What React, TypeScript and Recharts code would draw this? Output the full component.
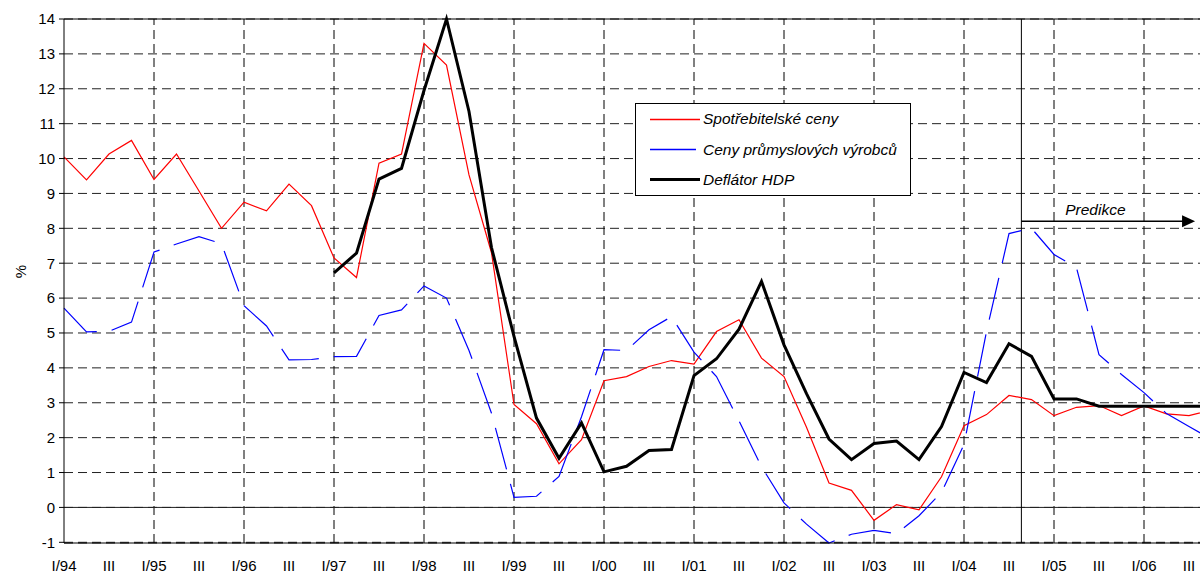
import React from 'react';
import { LineChart, Line, XAxis, YAxis, CartesianGrid, ReferenceLine } from 'recharts';

// čtvrtletí I/94 .. IV/06
const years = ['94', '95', '96', '97', '98', '99', '00', '01', '02', '03', '04', '05', '06'];
const quarterNames = ['I', 'II', 'III', 'IV'];

// meziroční změny v %
const spotrebitelskeCeny = [
  10.05, 9.39, 10.13, 10.52, 9.4, 10.13, 9.07, 8.0, 8.75, 8.5, 9.27, 8.65,
  7.15, 6.59, 9.87, 10.13, 13.3, 12.68, 9.53, 7.3, 2.95, 2.4, 1.25, 1.94,
  3.63, 3.75, 4.04, 4.21, 4.11, 5.04, 5.38, 4.28, 3.75, 2.3, 0.7, 0.49,
  -0.37, 0.08, -0.07, 0.88, 2.34, 2.66, 3.21, 3.09, 2.63, 2.87, 2.92, 2.63,
  2.91, 2.68, 2.63, 2.8,
];
const cenyPrumyslovychVyrobcu = [
  5.71, 5.03, 5.05, 5.31, 7.32, 7.55, 7.76, 7.56, 5.78, 5.2, 4.23, 4.24,
  4.32, 4.33, 5.5, 5.66, 6.35, 6.0, 4.5, 2.7, 0.29, 0.32, 0.89, 2.6,
  4.52, 4.5, 5.09, 5.47, 4.45, 3.75, 2.48, 1.17, 0.13, -0.48, -1.02, -0.77,
  -0.66, -0.75, -0.24, 0.43, 1.8, 5.04, 7.85, 8.0, 7.25, 6.87, 4.38, 3.81,
  3.29, 2.69, 2.32, 1.95,
];
const deflatorHdp: (number | null)[] = [
  null, null, null, null, null, null, null, null, null, null, null, null,
  6.72, 7.29, 9.41, 9.72, 11.95, 14.0, 11.35, 7.45, 4.9, 2.56, 1.41, 2.42,
  1.02, 1.18, 1.63, 1.66, 3.78, 4.26, 5.11, 6.48, 4.66, 3.26, 1.96, 1.37,
  1.83, 1.9, 1.37, 2.32, 3.87, 3.58, 4.69, 4.33, 3.11, 3.11, 2.9, 2.9,
  2.9, 2.9, 2.9, 2.9,
];

const yTicks = [-1, 0, 1, 2, 3, 4, 5, 6, 7, 8, 9, 10, 11, 12, 13, 14];
const predikceOd = 42.55;
const predikceDo = 50.27;
const predikceY = 8.2;

const quarters = years.flatMap((y) => quarterNames.map((q) => (q === 'I' ? `I/${y}` : q)));
const data = quarters.map((q, i) => ({
  i,
  q,
  cpi: spotrebitelskeCeny[i],
  ppi: cenyPrumyslovychVyrobcu[i],
  hdp: deflatorHdp[i],
}));
const xTicks = quarters.map((_, i) => i).filter((i) => i % 2 === 0);
const yearLines = quarters.map((_, i) => i).filter((i) => i % 4 === 0 && i > 0);

const FONT = '"Liberation Sans", Arial, sans-serif';

const XTick = ({ x, payload }: any) => (
  <text x={x} y={565} textAnchor="middle" dominantBaseline="central" fontSize={15} fontFamily={FONT} fill="#000">
    {quarters[payload.value]}
  </text>
);

const PredikceArrow = (props: any) => {
  const { x1, y1, x2 } = props;
  return (
    <g>
      <line x1={x1} y1={y1} x2={x2 - 12} y2={y1} stroke="#000" strokeWidth={1.5} />
      <polygon points={`${x2},${y1} ${x2 - 13},${y1 - 6} ${x2 - 13},${y1 + 6}`} fill="#000" />
      <text x={x1 + 74} y={y1 - 12} textAnchor="middle" dominantBaseline="central" fontSize={15.5} fontStyle="italic" fontFamily={FONT} fill="#000">
        Predikce
      </text>
    </g>
  );
};

const legendItems = [
  { name: 'Spotřebitelské ceny', color: '#ff0000', width: 1.3, len: 50 },
  { name: 'Ceny průmyslových výrobců', color: '#0000ff', width: 1.3, len: 46 },
  { name: 'Deflátor HDP', color: '#000000', width: 3, len: 50 },
];

export default function App() {
  return (
    <div style={{ position: 'fixed', left: 0, top: 0, width: 1200, height: 574, overflow: 'hidden', background: '#fff', fontFamily: FONT }}>
      <LineChart width={1232} height={574} data={data} margin={{ top: 19, right: 20.5, left: 0, bottom: 0 }}>
        <CartesianGrid vertical={false} stroke="#222" strokeDasharray="9 5" />
        {yearLines.map((i) => (
          <ReferenceLine key={i} x={i} stroke="#000" strokeDasharray="9 5" />
        ))}
        <ReferenceLine y={0} stroke="#222" />
        <ReferenceLine y={14} stroke="#000" />
        <XAxis
          type="number"
          dataKey="i"
          domain={[0, 51]}
          ticks={xTicks}
          interval={0}
          tickLine={false}
          axisLine={{ stroke: '#000' }}
          height={31}
          tick={<XTick />}
        />
        <YAxis
          domain={[-1, 14]}
          ticks={yTicks}
          interval={0}
          width={64}
          tickSize={5}
          tickMargin={4}
          axisLine={{ stroke: '#000' }}
          tickLine={{ stroke: '#000' }}
          tick={{ fontSize: 15, fill: '#000', fontFamily: FONT }}
        />
        <ReferenceLine x={predikceOd} stroke="#000" />
        <ReferenceLine
          segment={[
            { x: predikceOd, y: predikceY },
            { x: predikceDo, y: predikceY },
          ]}
          shape={<PredikceArrow />}
        />
        <Line type="linear" dataKey="cpi" stroke="#ff0000" strokeWidth={1.2} dot={false} isAnimationActive={false} />
        <Line type="linear" dataKey="ppi" stroke="#0000ff" strokeWidth={1.2} strokeDasharray="43 15" dot={false} isAnimationActive={false} />
        <Line type="linear" dataKey="hdp" stroke="#000" strokeWidth={3} dot={false} isAnimationActive={false} />
      </LineChart>
      <div style={{ position: 'absolute', left: 8, top: 263, transform: 'rotate(-90deg)', fontSize: 15, width: 24, textAlign: 'center' }}>%</div>
      <div style={{ position: 'absolute', left: 635, top: 103, width: 276, height: 93, boxSizing: 'border-box', border: '1px solid #000', background: '#fff' }}>
        <svg width={276} height={93} style={{ position: 'absolute', left: -1, top: -1 }}>
          {legendItems.map((it, k) => (
            <line key={it.name} x1={15} x2={15 + it.len} y1={16.5 + k * 30} y2={16.5 + k * 30} stroke={it.color} strokeWidth={it.width} />
          ))}
        </svg>
        {legendItems.map((it, k) => (
          <div key={it.name} style={{ position: 'absolute', left: 67, top: 15 + k * 30.5 - 9, fontSize: 15.5, fontStyle: 'italic', whiteSpace: 'nowrap', lineHeight: '18px' }}>
            {it.name}
          </div>
        ))}
      </div>
    </div>
  );
}
